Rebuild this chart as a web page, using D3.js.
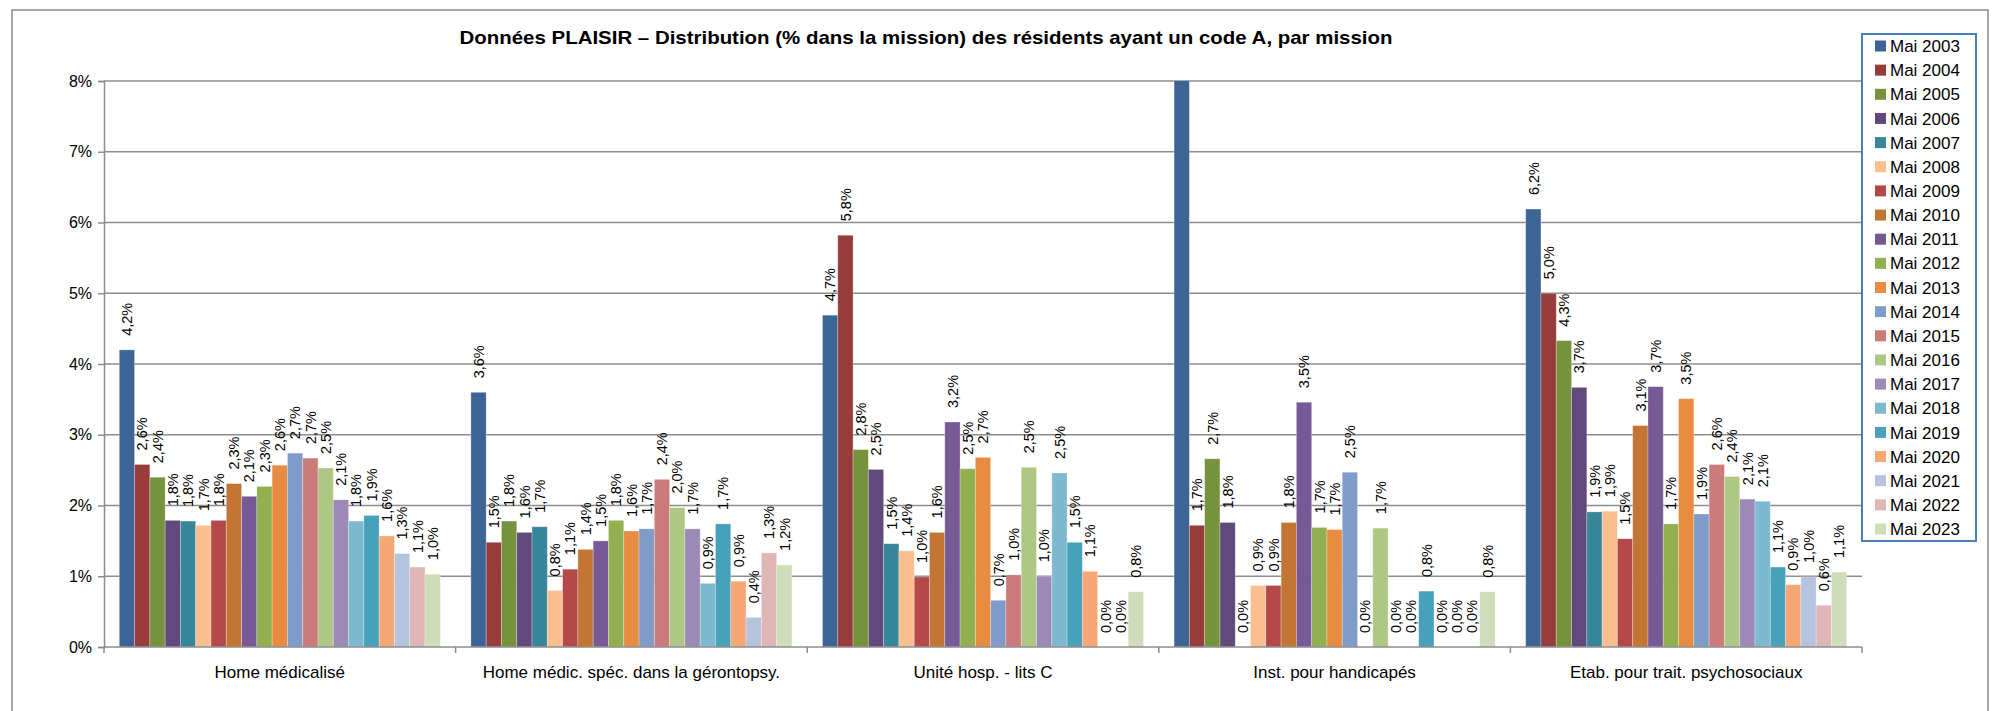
<!DOCTYPE html>
<html lang="fr">
<head>
<meta charset="UTF-8" />
<title>Données PLAISIR</title>
<script src="https://d3js.org/d3.v7.min.js"></script>
<style>
  body { margin: 0; background: #fff; }
  text { font-family: "Liberation Sans", Arial, sans-serif; fill: #000; }
</style>
</head>
<body>
<div id="chart"></div>
<script>
var w = 2002;
var h = 711;

// ---- data (values in %) ----
var missions = ["Home médicalisé", "Home médic. spéc. dans la gérontopsy.", "Unité hosp. - lits C",
    "Inst. pour handicapés", "Etab. pour trait. psychosociaux"];
var years = ["Mai 2003", "Mai 2004", "Mai 2005", "Mai 2006", "Mai 2007", "Mai 2008", "Mai 2009",
    "Mai 2010", "Mai 2011", "Mai 2012", "Mai 2013", "Mai 2014", "Mai 2015", "Mai 2016", "Mai 2017",
    "Mai 2018", "Mai 2019", "Mai 2020", "Mai 2021", "Mai 2022", "Mai 2023"];
var colors = ["#3E6496", "#963C3A", "#77923C", "#604A7B", "#37869A", "#F9BF90", "#B34A49",
    "#C27535", "#775A95", "#93B051", "#E88C42", "#7F9CC8", "#CB7B7A", "#AFC784", "#9C89B5",
    "#7EBACF", "#48A1BA", "#F5A876", "#B5C3DE", "#DEB6B5", "#D0DDBA"];
var yTicks = [0, 1, 2, 3, 4, 5, 6, 7, 8];

var homeMedicalise = [4.20, 2.58, 2.40, 1.79, 1.78, 1.72, 1.79, 2.31, 2.13, 2.27, 2.57,
    2.74, 2.67, 2.53, 2.08, 1.78, 1.86, 1.57, 1.32, 1.13, 1.03];
var homeGeronto = [3.60, 1.48, 1.78, 1.62, 1.70, 0.80, 1.10, 1.38, 1.50, 1.79, 1.64,
    1.67, 2.37, 1.97, 1.67, 0.90, 1.74, 0.93, 0.42, 1.33, 1.16];
var uniteLitsC = [4.69, 5.82, 2.79, 2.51, 1.46, 1.36, 0.99, 1.62, 3.18, 2.52, 2.68,
    0.66, 1.02, 2.54, 1.00, 2.46, 1.48, 1.07, 0.00, 0.00, 0.78];
// first bar goes above the 8% axis limit (cut off in the original)
var instHandicapes = [9.80, 1.72, 2.66, 1.76, 0.00, 0.87, 0.87, 1.76, 3.46, 1.69, 1.66,
    2.47, 0.00, 1.68, 0.00, 0.00, 0.79, 0.00, 0.00, 0.00, 0.78];
var etabPsycho = [6.19, 5.00, 4.33, 3.67, 1.91, 1.92, 1.53, 3.13, 3.68, 1.74, 3.51,
    1.88, 2.58, 2.41, 2.09, 2.06, 1.13, 0.88, 0.99, 0.59, 1.06];

var seriesByMission = [homeMedicalise, homeGeronto, uniteLitsC, instHandicapes, etabPsycho];

// ---- layout ----
var plot = { left: 104, right: 1862, top: 81, bottom: 647 };

var svg = d3.select("#chart")
    .append("svg")
    .attr("width", w)
    .attr("height", h);

// chart border
svg.append("rect")
    .attr("x", 12).attr("y", 10)
    .attr("width", 1976).attr("height", 720)
    .attr("fill", "none")
    .attr("stroke", "#8a8a8a")
    .attr("stroke-width", 1.5);

svg.append("text")
    .attr("x", 926)
    .attr("y", 44)
    .attr("text-anchor", "middle")
    .attr("font-weight", "bold")
    .attr("font-size", "19px")
    .attr("textLength", 933)
    .attr("lengthAdjust", "spacingAndGlyphs")
    .text("Données PLAISIR – Distribution (% dans la mission) des résidents ayant un code A, par mission");

var xScale = d3.scaleBand()
    .domain(missions)
    .range([plot.left, plot.right]);

var xInner = d3.scaleBand()
    .domain(years)
    .range([0, xScale.bandwidth()])
    .paddingOuter(1);

var yScale = d3.scaleLinear()
    .domain([0, 8])
    .range([plot.bottom, plot.top]);

// gridlines
svg.append("g")
    .selectAll("line")
    .data(yTicks.filter(function (d) { return d > 0; }))
    .enter()
    .append("line")
    .attr("x1", plot.left).attr("x2", plot.right)
    .attr("y1", function (d) { return yScale(d); })
    .attr("y2", function (d) { return yScale(d); })
    .attr("stroke", "#8c8c8c")
    .attr("stroke-width", 1.5);

// y axis
var yAxis = d3.axisLeft(yScale)
    .tickValues(yTicks)
    .tickSize(6)
    .tickPadding(6)
    .tickFormat(function (d) { return d + "%"; });

var gy = svg.append("g")
    .attr("transform", "translate(" + plot.left + ",0)")
    .call(yAxis);
gy.select(".domain").attr("stroke", "#8c8c8c").attr("stroke-width", 1.5);
gy.selectAll(".tick line").attr("stroke", "#8c8c8c").attr("stroke-width", 1.5);
gy.selectAll(".tick text")
    .style("font-family", "Liberation Sans, Arial, sans-serif")
    .style("font-size", "16px")
    .attr("fill", "#000");

// bars (clipped at the 8% line)
svg.append("clipPath")
    .attr("id", "plotClip")
    .append("rect")
    .attr("x", plot.left).attr("y", plot.top)
    .attr("width", plot.right - plot.left)
    .attr("height", plot.bottom - plot.top + 1);

var fmt = d3.formatLocale({ decimal: ",", thousands: " ", grouping: [3], currency: ["", "€"] }).format(".1f");

var groups = svg.append("g")
    .attr("clip-path", "url(#plotClip)")
    .selectAll("g")
    .data(missions)
    .enter()
    .append("g")
    .attr("transform", function (d) { return "translate(" + xScale(d) + ",0)"; });

groups.each(function (mission, mi) {
    var g = d3.select(this);
    var vals = seriesByMission[mi];

    g.selectAll("rect")
        .data(vals)
        .enter()
        .append("rect")
        .attr("x", function (d, i) { return xInner(years[i]); })
        .attr("y", function (d) { return yScale(Math.min(d, 8.2)); })
        .attr("width", xInner.bandwidth())
        .attr("height", function (d) { return plot.bottom - yScale(Math.min(d, 8.2)); })
        .attr("fill", function (d, i) { return colors[i]; })
        .attr("stroke", "#ffffff")
        .attr("stroke-opacity", 0.35)
        .attr("stroke-width", 0.8);

    // rotated value labels (hidden when the bar goes off the axis)
    g.selectAll("text.val")
        .data(vals)
        .enter()
        .append("text")
        .attr("class", "val")
        .attr("display", function (d) { return d > 8 ? "none" : null; })
        .attr("transform", function (d, i) {
            var cx = xInner(years[i]) + xInner.bandwidth() / 2;
            return "translate(" + cx + "," + (yScale(Math.min(d, 8)) - 14) + ") rotate(-90)";
        })
        .attr("dy", "0.36em")
        .attr("font-size", "14.5px")
        .text(function (d) { return fmt(d) + "%"; });
});

// x axis
svg.append("line")
    .attr("x1", plot.left).attr("x2", plot.right)
    .attr("y1", plot.bottom).attr("y2", plot.bottom)
    .attr("stroke", "#8c8c8c").attr("stroke-width", 1.5);

var xTickPos = missions.map(function (m) { return xScale(m); }).concat([plot.right]);
svg.append("g")
    .selectAll("line")
    .data(xTickPos)
    .enter()
    .append("line")
    .attr("x1", function (d) { return d; }).attr("x2", function (d) { return d; })
    .attr("y1", plot.bottom).attr("y2", plot.bottom + 6)
    .attr("stroke", "#8c8c8c").attr("stroke-width", 1.5);

svg.append("g")
    .selectAll("text")
    .data(missions)
    .enter()
    .append("text")
    .attr("x", function (d) { return xScale(d) + xScale.bandwidth() / 2; })
    .attr("y", 678)
    .attr("text-anchor", "middle")
    .attr("font-size", "17px")
    .text(function (d) { return d; });

// legend
var legend = svg.append("g")
    .attr("class", "legend");

legend.append("rect")
    .attr("x", 1862).attr("y", 34)
    .attr("width", 114).attr("height", 507)
    .attr("fill", "#fff")
    .attr("stroke", "#4A7EBB")
    .attr("stroke-width", 2);

var legendY = d3.scalePoint()
    .domain(years)
    .range([46, 529]);

legend.selectAll("rect.sw")
    .data(years)
    .enter()
    .append("rect")
    .attr("class", "sw")
    .attr("x", 1875)
    .attr("y", function (d) { return legendY(d) - 5.5; })
    .attr("width", 11)
    .attr("height", 11)
    .attr("fill", function (d, i) { return colors[i]; });

legend.selectAll("text")
    .data(years)
    .enter()
    .append("text")
    .attr("x", 1890)
    .attr("y", function (d) { return legendY(d); })
    .attr("dy", "0.36em")
    .attr("font-size", "17px")
    .text(function (d) { return d; });
</script>
</body>
</html>
